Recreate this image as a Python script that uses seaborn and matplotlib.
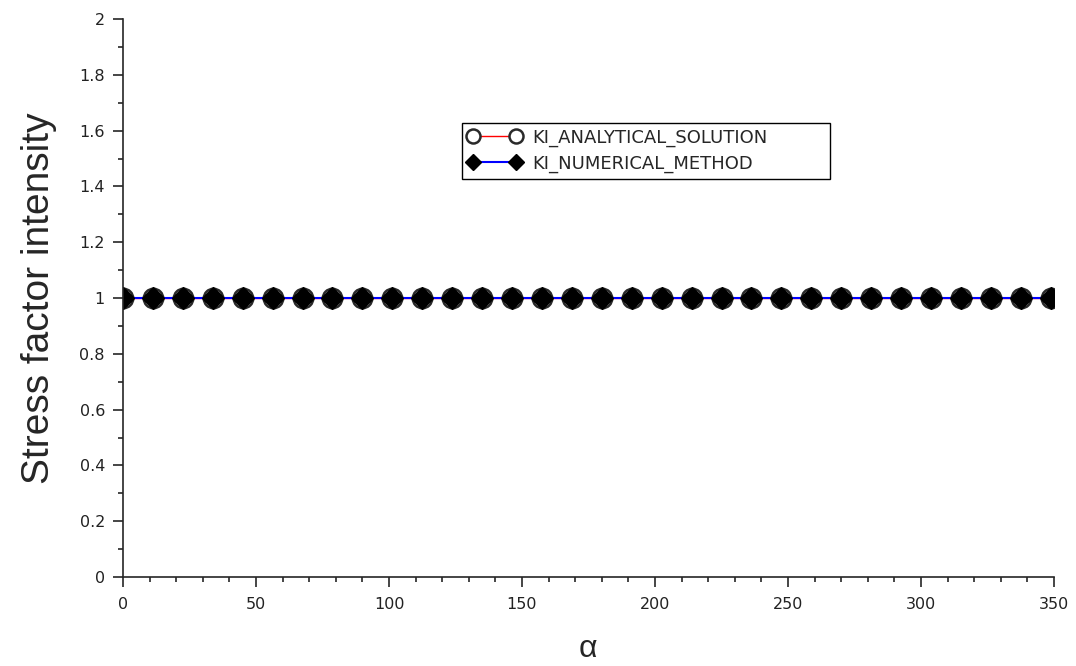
import numpy as np
import pandas as pd
import matplotlib
matplotlib.use("Agg")
import matplotlib.pyplot as plt
from matplotlib.ticker import MultipleLocator
import seaborn as sns

alpha = [0, 11.25, 22.5, 33.75, 45, 56.25, 67.5, 78.75, 90, 101.25, 112.5, 123.75,
         135, 146.25, 157.5, 168.75, 180, 191.25, 202.5, 213.75, 225, 236.25, 247.5,
         258.75, 270, 281.25, 292.5, 303.75, 315, 326.25, 337.5, 348.75]
ki_analytical = [1.0] * 32
ki_numerical = [1.0] * 32
yticks = [0, 0.2, 0.4, 0.6, 0.8, 1, 1.2, 1.4, 1.6, 1.8, 2]
ytick_labels = ["0", "0.2", "0.4", "0.6", "0.8", "1", "1.2", "1.4", "1.6", "1.8", "2"]

sns.set_style("ticks")
plt.rcParams['font.family'] = ['Liberation Sans', 'DejaVu Sans']

fig = plt.figure(figsize=(10.76, 6.66), dpi=100)
ax = fig.add_axes([123 / 1076, 1 - 577 / 666, 931 / 1076, 558 / 666])

df_a = pd.DataFrame({"alpha": alpha, "K": ki_analytical})
df_n = pd.DataFrame({"alpha": alpha, "K": ki_numerical})

sns.lineplot(data=df_a, x="alpha", y="K", ax=ax, color="red", lw=1,
             marker="o", markersize=14, markerfacecolor="white",
             markeredgecolor="#2a2a2a", markeredgewidth=1.8,
             label="KI_ANALYTICAL_SOLUTION")
sns.lineplot(data=df_n, x="alpha", y="K", ax=ax, color="blue", lw=1.5,
             marker="D", markersize=11.5, markerfacecolor="black",
             markeredgecolor="black", markeredgewidth=1,
             label="KI_NUMERICAL_METHOD")

ax.set_xlim(0, 350)
ax.set_ylim(0, 2)
ax.xaxis.set_major_locator(MultipleLocator(50))
ax.xaxis.set_minor_locator(MultipleLocator(10))
ax.yaxis.set_minor_locator(MultipleLocator(0.1))
ax.set_yticks(yticks)
ax.set_yticklabels(ytick_labels)
ax.tick_params(which="major", length=7, width=1.2, direction="out", pad=6)
ax.tick_params(axis="x", which="major", pad=7.5)
ax.tick_params(which="minor", length=3.5, width=1.2, direction="out")
for lab in ax.get_xticklabels() + ax.get_yticklabels():
    lab.set_fontfamily("DejaVu Sans")
    lab.set_fontsize(11.5)
    lab.set_color("#222222")
for s in ["top", "right"]:
    ax.spines[s].set_visible(False)
for s in ["left", "bottom"]:
    ax.spines[s].set_linewidth(1.2)

ax.set_xlabel("α", fontsize=23, fontfamily="Liberation Sans")
ax.xaxis.label.set_va("baseline")
ax.xaxis.set_label_coords(0.4995, -0.143)
ax.set_ylabel("Stress factor intensity", fontsize=28, fontfamily="Liberation Sans")
ax.yaxis.set_label_coords(-0.071, 0.5)

leg = ax.legend(loc="upper left", bbox_to_anchor=(0.364, 0.708, 0.395, 0.1056),
                mode="expand",
                prop={"family": "DejaVu Sans", "size": 13},
                frameon=True, fancybox=False, edgecolor="black", framealpha=1,
                numpoints=2, markerscale=0.72, handlelength=3.0, borderpad=0.3,
                labelspacing=0.45, handletextpad=0.6, borderaxespad=0)
leg.get_frame().set_linewidth(1)

fig.savefig("out.png", dpi=100)
